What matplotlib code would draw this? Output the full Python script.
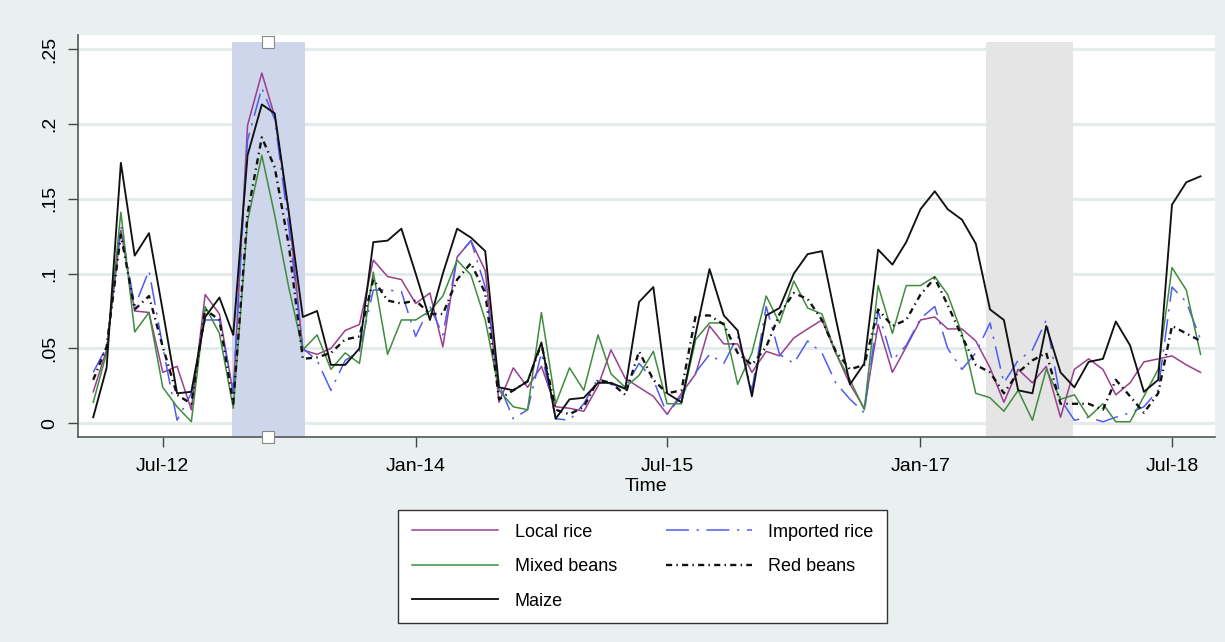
import matplotlib
matplotlib.use('Agg')
import matplotlib.pyplot as plt
import matplotlib.dates as mdates
import pandas as pd

plt.rcParams['font.family'] = ['Liberation Sans', 'DejaVu Sans']

# monthly series, Feb 2012 - Sep 2018
months = pd.date_range('2012-02-01', periods=80, freq='MS')

local_rice = [
    .021, .049, .129, .075, .074, .034, .038, .009, .086, .073,
    .020, .199, .234, .205, .140, .049, .046, .050, .062, .066,
    .109, .098, .096, .080, .087, .051, .111, .122, .102, .014,
    .037, .024, .038, .011, .010, .008, .025, .049, .030, .024,
    .018, .006, .020, .033, .065, .053, .053, .034, .048, .045,
    .057, .063, .069, .047, .026, .010, .066, .034, .051, .069,
    .071, .063, .063, .055, .037, .014, .036, .027, .038, .004,
    .036, .043, .036, .019, .027, .041, .043, .045, .039, .034]

imported_rice = [
    .034, .051, .132, .078, .102, .051, .002, .020, .069, .069,
    .022, .189, .224, .203, .130, .050, .042, .022, .042, .048,
    .089, .089, .088, .058, .078, .059, .111, .122, .091, .026,
    .003, .009, .047, .003, .002, .013, .030, .026, .024, .040,
    .029, .006, .018, .034, .046, .040, .058, .022, .078, .046,
    .040, .055, .047, .027, .016, .007, .075, .042, .052, .070,
    .078, .050, .036, .047, .067, .027, .042, .049, .069, .016,
    .002, .004, .001, .004, .007, .011, .022, .091, .081, .056]

mixed_beans = [
    .014, .047, .141, .061, .074, .024, .011, .001, .078, .060,
    .010, .135, .179, .139, .090, .049, .059, .036, .047, .040,
    .101, .046, .069, .069, .075, .085, .109, .099, .069, .022,
    .011, .009, .074, .013, .037, .022, .059, .033, .024, .032,
    .048, .013, .013, .056, .067, .067, .026, .047, .085, .067,
    .095, .077, .073, .047, .029, .009, .092, .060, .092, .092,
    .098, .086, .060, .020, .017, .008, .022, .002, .036, .016,
    .019, .004, .013, .001, .001, .018, .036, .104, .089, .046]

red_beans = [
    .029, .051, .126, .076, .085, .051, .019, .013, .076, .069,
    .013, .140, .191, .171, .118, .043, .044, .047, .056, .058,
    .096, .082, .080, .082, .073, .073, .096, .107, .087, .016,
    .022, .028, .053, .009, .006, .011, .029, .027, .019, .048,
    .029, .020, .022, .072, .072, .066, .047, .039, .051, .073,
    .087, .083, .069, .048, .036, .039, .076, .065, .069, .086,
    .097, .079, .058, .039, .034, .020, .034, .042, .047, .013,
    .013, .013, .009, .029, .018, .007, .020, .065, .060, .055]

maize = [
    .004, .037, .174, .112, .127, .075, .020, .021, .071, .084,
    .059, .179, .213, .207, .140, .071, .075, .039, .039, .050,
    .121, .122, .130, .100, .069, .100, .130, .124, .115, .024,
    .022, .028, .054, .003, .016, .017, .027, .027, .023, .081,
    .091, .020, .014, .060, .103, .072, .062, .018, .072, .077,
    .100, .113, .115, .070, .026, .040, .116, .106, .121, .143,
    .155, .143, .136, .120, .076, .069, .022, .020, .065, .034,
    .024, .041, .043, .068, .052, .021, .029, .146, .161, .165]

# shaded periods
blue_span = ('2012-11-28', '2013-05-06')
gray_span = ('2017-05-24', '2017-11-28')
span_top = 0.255

bg = '#eaf0f0'
fig = plt.figure(figsize=(12.25, 6.42), dpi=100, facecolor=bg)
ax = fig.add_axes([0.0637, 0.3193, 0.928, 0.6262])
ax.set_facecolor('white')

ymin, ymax = -0.0092, 0.2594
ax.set_ylim(ymin, ymax)
ax.set_xlim(pd.Timestamp('2011-12-30'), pd.Timestamp('2018-10-02'))

ax.set_yticks([0, .05, .1, .15, .2, .25])
ax.set_yticklabels(['0', '.05', '.1', '.15', '.2', '.25'], rotation=90, va='center')
ax.grid(axis='y', color='#e3ebeb', lw=2.2, zorder=0)
ax.set_axisbelow(True)

b0, b1 = pd.Timestamp(blue_span[0]), pd.Timestamp(blue_span[1])
ax.fill_between([b0, b1], ymin, span_top, color='#cdd6ea', lw=0, zorder=1)
g0, g1 = pd.Timestamp(gray_span[0]), pd.Timestamp(gray_span[1])
ax.fill_between([g0, g1], ymin, span_top, color='#e5e5e5', lw=0, zorder=1)

# selection handles at the middle of the blue band
mid = b0 + (b1 - b0) / 2
ax.scatter([mid, mid], [span_top, ymin], marker='s', s=70, facecolor='white',
           edgecolor='#888888', lw=0.8, zorder=6, clip_on=False)

ax.plot(months, local_rice, color='#9a3e8e', lw=1.1, label='Local rice', zorder=3)
ax.plot(months, imported_rice, color='#4f5cf2', lw=1.1, ls=(0, (15, 5, 1.5, 5)),
        label='Imported rice', zorder=3)
ax.plot(months, mixed_beans, color='#3f8c3f', lw=1.1, label='Mixed beans', zorder=3)
ax.plot(months, red_beans, color='#111111', lw=1.7, ls=(0, (2.6, 1.8, 0.6, 1.8)),
        label='Red beans', zorder=4)
ax.plot(months, maize, color='#111111', lw=1.35, label='Maize', zorder=5)

ticks = [pd.Timestamp(d) for d in ['2012-07-01', '2014-01-01', '2015-07-01',
                                   '2017-01-01', '2018-07-01']]
ax.set_xticks(ticks)
ax.xaxis.set_major_formatter(mdates.DateFormatter('%b-%y'))
ax.set_xlabel('Time', fontsize=14, labelpad=2)
ax.tick_params(axis='x', labelsize=14, length=7, width=1, color='#444444', pad=8)
ax.tick_params(axis='y', labelsize=14, length=7, width=1, color='#444444', pad=7)

for s in ['top', 'right']:
    ax.spines[s].set_visible(False)
for s in ['left', 'bottom']:
    ax.spines[s].set_color('#555555')
    ax.spines[s].set_linewidth(1.2)

h, l = ax.get_legend_handles_labels()
order = [0, 2, 4, 1, 3]
leg = fig.legend([h[i] for i in order], [l[i] for i in order], ncol=2,
                 loc='upper left', bbox_to_anchor=(0.325, 0.2056),
                 borderaxespad=0, fontsize=13, handlelength=4.8,
                 handletextpad=0.9, columnspacing=2.7, labelspacing=0.97,
                 borderpad=0.75, frameon=True, fancybox=False,
                 edgecolor='#333333', facecolor='white', framealpha=1)
leg.get_frame().set_linewidth(1.0)

fig.savefig('out.png', dpi=100, facecolor=bg)
